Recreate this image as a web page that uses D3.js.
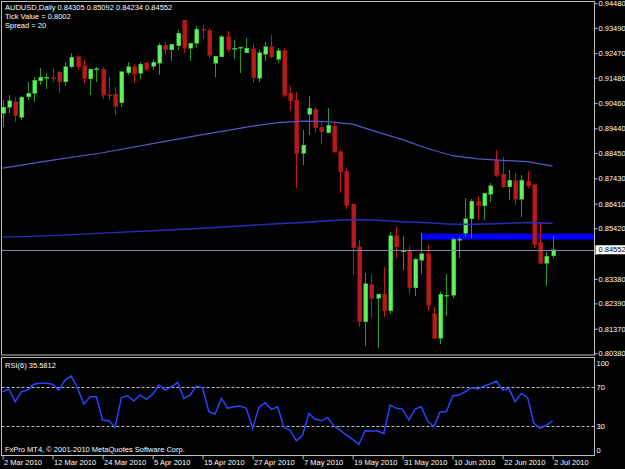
<!DOCTYPE html>
<html>
<head>
<meta charset="utf-8">
<script src="https://cdnjs.cloudflare.com/ajax/libs/d3/7.8.5/d3.min.js"></script>
<style>
  body { margin: 0; background: #000; }
  text { font-family: "Liberation Sans", Arial, sans-serif; font-size: 7.5px; fill: #fff; }
</style>
</head>
<body>
<div id="chart"></div>
<script>
// daily AUDUSD bars, 2 Mar 2010 .. 2 Jul 2010
var opens = [
  0.9006, 0.9029, 0.9051, 0.8988, 0.9071, 0.9085, 0.9136, 0.9148, 0.9148, 0.9170,
  0.9132, 0.9192, 0.9232, 0.9196, 0.9144, 0.9182, 0.9183, 0.9080, 0.9081, 0.9047,
  0.9168, 0.9192, 0.9166, 0.9208, 0.9195, 0.9206, 0.9280, 0.9260, 0.9277, 0.9380,
  0.9266, 0.9287, 0.9344, 0.9340, 0.9206, 0.9232, 0.9313, 0.9264, 0.9268, 0.9249,
  0.9264, 0.9146, 0.9243, 0.9273, 0.9223, 0.9257, 0.9085, 0.9058, 0.8844, 0.9002,
  0.9022, 0.8948, 0.8926, 0.8953, 0.8850, 0.8772, 0.8639, 0.8467, 0.8165, 0.8315,
  0.8259, 0.8275, 0.8209, 0.8511, 0.8450, 0.8454, 0.8303, 0.8413, 0.8440, 0.8198,
  0.8098, 0.8271, 0.8272, 0.8496, 0.8521, 0.8581, 0.8651, 0.8632, 0.8678, 0.8816,
  0.8759, 0.8709, 0.8733, 0.8659, 0.8732, 0.8718, 0.8483, 0.8400, 0.84305
];
var highs = [
  0.9058, 0.9078, 0.9070, 0.9074, 0.9131, 0.9151, 0.9187, 0.9167, 0.9187, 0.9175,
  0.9211, 0.9247, 0.9235, 0.9219, 0.9183, 0.9192, 0.9192, 0.9152, 0.9109, 0.9175,
  0.9212, 0.9203, 0.9212, 0.9212, 0.9219, 0.9287, 0.9293, 0.9284, 0.9340, 0.9382,
  0.9289, 0.9356, 0.9360, 0.9347, 0.9237, 0.9320, 0.9336, 0.9300, 0.9273, 0.9309,
  0.9283, 0.9260, 0.9291, 0.9320, 0.9269, 0.9269, 0.9114, 0.9091, 0.8937, 0.9074,
  0.9031, 0.8971, 0.9025, 0.8964, 0.8857, 0.8783, 0.8641, 0.8494, 0.8362, 0.8356,
  0.8276, 0.8386, 0.8527, 0.8547, 0.8510, 0.8471, 0.8420, 0.8521, 0.8474, 0.8223,
  0.8285, 0.8357, 0.8505, 0.8505, 0.8662, 0.8658, 0.8671, 0.8683, 0.8726, 0.8857,
  0.8827, 0.8776, 0.8765, 0.8756, 0.8772, 0.8720, 0.8561, 0.8447, 0.85092
];
var lows = [
  0.8949, 0.9006, 0.8969, 0.8977, 0.9058, 0.9050, 0.9118, 0.9102, 0.9131, 0.9087,
  0.9114, 0.9189, 0.9179, 0.9127, 0.9078, 0.9132, 0.9061, 0.9058, 0.8998, 0.9029,
  0.9159, 0.9127, 0.9143, 0.9175, 0.9179, 0.9159, 0.9239, 0.9215, 0.9260, 0.9246,
  0.9215, 0.9266, 0.9304, 0.9226, 0.9150, 0.9231, 0.9253, 0.9222, 0.9166, 0.9246,
  0.9128, 0.9132, 0.9215, 0.9226, 0.9208, 0.9071, 0.9014, 0.8702, 0.8796, 0.8917,
  0.8924, 0.8881, 0.8924, 0.8846, 0.8682, 0.8618, 0.8353, 0.8144, 0.8067, 0.8181,
  0.8060, 0.8185, 0.8198, 0.8423, 0.8373, 0.8276, 0.8269, 0.8357, 0.8209, 0.8094,
  0.8075, 0.8189, 0.8259, 0.8420, 0.8505, 0.8501, 0.8577, 0.8577, 0.8646, 0.8747,
  0.8705, 0.8655, 0.8635, 0.8588, 0.8702, 0.8464, 0.8397, 0.8310, 0.84234
];
var closes = [
  0.9030, 0.9055, 0.8994, 0.9069, 0.9085, 0.9139, 0.9150, 0.9150, 0.9146, 0.9132,
  0.9192, 0.9230, 0.9192, 0.9146, 0.9182, 0.9184, 0.9078, 0.9078, 0.9034, 0.9172,
  0.9192, 0.9163, 0.9203, 0.9182, 0.9210, 0.9280, 0.9260, 0.9283, 0.9327, 0.9266,
  0.9287, 0.9344, 0.9342, 0.9239, 0.9235, 0.9313, 0.9260, 0.9266, 0.9270, 0.9266,
  0.9148, 0.9249, 0.9273, 0.9232, 0.9257, 0.9078, 0.9055, 0.8843, 0.8877, 0.9025,
  0.8946, 0.8930, 0.8957, 0.8850, 0.8769, 0.8635, 0.8464, 0.8165, 0.8319, 0.8259,
  0.8275, 0.8209, 0.8511, 0.8467, 0.8452, 0.8302, 0.8416, 0.8440, 0.8232, 0.8098,
  0.8275, 0.8272, 0.8497, 0.8497, 0.8581, 0.8651, 0.8632, 0.8682, 0.8713, 0.8756,
  0.8709, 0.8736, 0.8659, 0.8736, 0.8713, 0.8478, 0.8400, 0.8429, 0.84552
];

// moving averages, sampled at these bars
var maBars = [0, 8, 16, 24, 32, 40, 44, 48, 52, 56, 60, 64, 68, 72, 76, 80, 84, 88];
var maFast = [0.8784, 0.8816, 0.8846, 0.8883, 0.8919, 0.8953, 0.8967, 0.8973, 0.8971,
              0.8961, 0.8929, 0.8899, 0.8863, 0.8834, 0.8821, 0.8815, 0.8810, 0.8792];
var maSlow = [0.8506, 0.8512, 0.8522, 0.8532, 0.8542, 0.8554, 0.8560, 0.8565, 0.8572,
              0.8577, 0.8574, 0.8568, 0.8564, 0.8558, 0.8558, 0.8561, 0.8565, 0.8562];

// RSI(6), one value per bar
var rsi = [
  65.5, 68.3, 55.2, 65.5, 67.2, 73.1, 74.1, 74.1, 73.1, 67.2,
  77.5, 81.6, 69.0, 52.9, 60.4, 60.4, 36.5, 35.7, 29.0, 59.3,
  61.4, 55.9, 62.1, 57.7, 62.8, 72.4, 67.2, 70.6, 75.1, 58.7,
  62.1, 71.3, 69.6, 45.0, 42.6, 58.7, 48.5, 50.1, 50.8, 48.5,
  27.9, 49.5, 54.2, 47.4, 50.1, 29.0, 26.2, 15.2, 21.1, 43.3,
  37.5, 35.7, 39.2, 30.3, 26.2, 21.1, 16.7, 11.5, 25.5, 25.2,
  25.2, 22.8, 51.8, 48.5, 47.7, 36.5, 47.7, 50.1, 35.7, 29.6,
  45.0, 45.0, 61.1, 62.1, 65.5, 69.6, 68.3, 71.3, 73.4, 76.5,
  67.2, 69.0, 55.2, 63.8, 59.7, 33.1, 27.9, 31.3, 35.58
];

// rectangle object drawn on the chart
var boxFromBar = 67, boxTop = 0.8520, boxBottom = 0.8496;

var dateBars = [0, 8, 16, 24, 32, 40, 48, 56, 64, 72, 80, 88];
var dateLabels = ["2 Mar 2010", "12 Mar 2010", "24 Mar 2010", "5 Apr 2010", "15 Apr 2010",
  "27 Apr 2010", "7 May 2010", "19 May 2010", "31 May 2010", "10 Jun 2010", "22 Jun 2010", "2 Jul 2010"];
var priceTicks = [0.9448, 0.9349, 0.9247, 0.9148, 0.9046, 0.8944, 0.8845, 0.8743,
  0.8641, 0.8542, 0.8440, 0.8338, 0.8239, 0.8137, 0.8038];
var rsiTicks = [100, 70, 30, 0];
var rsiLevels = [70, 30];

var W = 625, H = 469,
    left = 1.5, right = 594.5,
    mainTop = 1.5, mainBottom = 355,
    rsiTop = 357.5, rsiBottom = 455.5;

var svg = d3.select("#chart").append("svg")
  .attr("width", W).attr("height", H)
  .style("background", "#000");

var x = d3.scaleLinear().domain([0, 88]).range([2.6, 552.6]);
var y = d3.scaleLinear().domain([0.8038, 0.9448]).range([353.3, 3.3]);
var yr = d3.scaleLinear().domain([0, 100]).range([455.6, 358.1]);

svg.append("clipPath").attr("id", "mainclip").append("rect")
  .attr("x", 2).attr("y", 2).attr("width", right - 2.5).attr("height", mainBottom - 2.5);
svg.append("clipPath").attr("id", "rsiclip").append("rect")
  .attr("x", 2).attr("y", rsiTop + 0.5).attr("width", right - 2.5).attr("height", rsiBottom - rsiTop - 1);

var main = svg.append("g").attr("clip-path", "url(#mainclip)");

// rectangle object (background)
main.append("rect")
  .attr("x", x(boxFromBar))
  .attr("y", y(boxTop))
  .attr("width", right - x(boxFromBar))
  .attr("height", y(boxBottom) - y(boxTop))
  .attr("fill", "#0000ff");

// candles
var bars = d3.range(opens.length).map(function (i) {
  return { i: i, o: opens[i], h: highs[i], l: lows[i], c: closes[i] };
});

var candle = main.selectAll(".candle").data(bars).enter().append("g")
  .attr("class", "candle")
  .attr("shape-rendering", "crispEdges");

candle.append("line")
  .attr("x1", function (d) { return Math.round(x(d.i)) + 0.5; })
  .attr("x2", function (d) { return Math.round(x(d.i)) + 0.5; })
  .attr("y1", function (d) { return y(d.h); })
  .attr("y2", function (d) { return y(d.l); })
  .attr("stroke", function (d) { return d.c >= d.o ? "#229c22" : "#c81414"; })
  .attr("stroke-width", 1);

candle.append("rect")
  .attr("x", function (d) { return Math.round(x(d.i)) - 1.5; })
  .attr("width", 4)
  .attr("y", function (d) { return y(Math.max(d.o, d.c)); })
  .attr("height", function (d) { return Math.max(1, Math.abs(y(d.o) - y(d.c))); })
  .attr("fill", function (d) { return d.c >= d.o ? "#5ef05e" : "#b81a1a"; })
  .attr("stroke", function (d) { return d.c >= d.o ? "#2fb02f" : "#a01010"; })
  .attr("stroke-width", 0.6);

// moving averages
var maLine = d3.line()
  .x(function (d) { return x(d[0]); })
  .y(function (d) { return y(d[1]); });

main.append("path")
  .datum(maBars.map(function (b, k) { return [b, maFast[k]]; }))
  .attr("d", maLine)
  .attr("fill", "none")
  .attr("stroke", "#5656c8")
  .attr("stroke-width", 1.2);

main.append("path")
  .datum(maBars.map(function (b, k) { return [b, maSlow[k]]; }))
  .attr("d", maLine)
  .attr("fill", "none")
  .attr("stroke", "#2a2ab8")
  .attr("stroke-width", 1.4);

// bid line
var bid = closes[closes.length - 1];
main.append("line")
  .attr("x1", left).attr("x2", right)
  .attr("y1", Math.round(y(bid)) + 0.5).attr("y2", Math.round(y(bid)) + 0.5)
  .attr("stroke", "#7a8aa0").attr("stroke-width", 1);

// panel frames
svg.append("rect")
  .attr("x", left).attr("y", mainTop)
  .attr("width", right - left).attr("height", mainBottom - mainTop)
  .attr("fill", "none").attr("stroke", "#c0c0c0");
svg.append("rect")
  .attr("x", left).attr("y", rsiTop)
  .attr("width", right - left).attr("height", rsiBottom - rsiTop)
  .attr("fill", "none").attr("stroke", "#c0c0c0");

// price axis
var yAxis = svg.append("g")
  .attr("transform", "translate(" + right + ",0)")
  .call(d3.axisRight(y).tickValues(priceTicks).tickSize(3).tickPadding(1)
    .tickFormat(d3.format(".5f")));
yAxis.select(".domain").remove();
yAxis.selectAll("line").attr("stroke", "#c0c0c0");
yAxis.selectAll("text").attr("fill", "#fff").style("font-size", "7.5px");
// the bid label hides the tick label right under it
yAxis.selectAll(".tick").filter(function (d) { return Math.abs(y(d) - y(bid)) < 9; })
  .select("text").remove();

// bid label
var bidG = svg.append("g").attr("transform", "translate(" + (right + 1) + "," + y(bid) + ")");
bidG.append("rect").attr("x", 0).attr("y", -4.5).attr("width", W - right).attr("height", 9)
  .attr("fill", "#fff");
bidG.append("text").attr("x", 3).attr("dy", "0.35em").style("fill", "#000")
  .text(d3.format(".5f")(bid));

// RSI panel
var rsiG = svg.append("g").attr("clip-path", "url(#rsiclip)");
rsiG.selectAll(".lvl").data(rsiLevels).enter().append("line")
  .attr("x1", left).attr("x2", right)
  .attr("y1", function (d) { return Math.round(yr(d)) + 0.5; })
  .attr("y2", function (d) { return Math.round(yr(d)) + 0.5; })
  .attr("stroke", "#c0c0c0").attr("stroke-dasharray", "3,2");

rsiG.append("path")
  .datum(rsi)
  .attr("d", d3.line().x(function (d, i) { return x(i); }).y(function (d) { return yr(d); }))
  .attr("fill", "none")
  .attr("stroke", "#2844ff")
  .attr("stroke-width", 1.5);

svg.selectAll(".rsiTick").data(rsiTicks).enter().append("text")
  .attr("x", right + 2)
  .attr("y", function (d) { return yr(d); })
  .attr("dy", function (d) { return d === 100 ? "1.0em" : d === 0 ? "-0.3em" : "0.35em"; })
  .text(function (d) { return d; });

// time axis
var xAxis = svg.append("g")
  .attr("transform", "translate(0," + rsiBottom + ")")
  .call(d3.axisBottom(x).tickValues(dateBars).tickSize(4)
    .tickFormat(function (d, i) { return dateLabels[i]; }));
xAxis.select(".domain").remove();
xAxis.selectAll("line").attr("stroke", "#c0c0c0");
xAxis.selectAll("text")
  .attr("fill", "#fff").style("font-size", "7.5px")
  .attr("text-anchor", "start").attr("x", 1).attr("y", 4.5).attr("dy", "0.71em");

// texts
svg.append("text").attr("x", 5).attr("y", 10)
  .text("AUDUSD,Daily  " + [opens[88], highs[88], lows[88], closes[88]].map(d3.format(".5f")).join(" "));
svg.append("text").attr("x", 5).attr("y", 19).text("Tick Value = 0.8002");
svg.append("text").attr("x", 5).attr("y", 28).text("Spread = 20");
svg.append("text").attr("x", 5).attr("y", 368).text("RSI(6) " + "35.5812");
svg.append("text").attr("x", 5).attr("y", 452).text("FxPro MT4, \u00a9 2001-2010 MetaQuotes Software Corp.");
</script>
</body>
</html>
